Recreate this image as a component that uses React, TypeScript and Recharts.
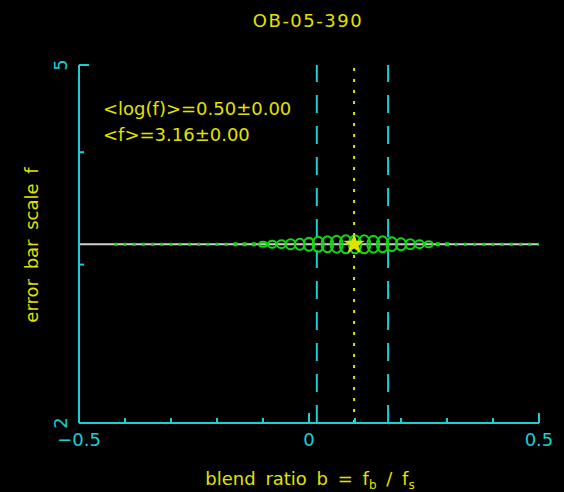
import {
  ComposedChart,
  XAxis,
  YAxis,
  Scatter,
  ReferenceLine,
  Symbols,
} from 'recharts';

const AXIS = '#1bcfd6';
const INK = '#e2e200';
const GREEN = '#12d812';
const GREY = '#cfcfcf';
const FONT = '"DejaVu Sans", sans-serif';

const title = 'OB-05-390';

// blend ratio grid and the ring size drawn at each step
const blendGrid = [
  -0.42, -0.4, -0.38, -0.36, -0.34, -0.32, -0.3, -0.28, -0.26, -0.24, -0.22, -0.2,
  -0.18, -0.16, -0.14, -0.12, -0.1, -0.08, -0.06, -0.04, -0.02, 0, 0.02, 0.04,
  0.06, 0.08, 0.1, 0.12, 0.14, 0.16, 0.18, 0.2, 0.22, 0.24, 0.26, 0.28, 0.3,
  0.32, 0.34, 0.36, 0.38, 0.4, 0.42, 0.44, 0.46, 0.48, 0.5,
];
const ringSize = [
  1.5, 1.5, 1.5, 1.5, 1.5, 1.5, 1.5, 1.5, 1.5, 1.5, 1.5, 1.5,
  1.5, 2, 2, 2, 2.5, 3.5, 4, 5, 5.5, 6.5, 7.5, 8,
  8.5, 9, 9, 9, 8.5, 8, 7, 6, 5, 4, 3, 2, 2,
  1.5, 1.5, 1.5, 1.5, 1.5, 1.5, 1.5, 1.5, 1.5, 1.5,
];

const meanF = 3.16;
const bestBlend = 0.098;
const blendLow = 0.017;
const blendHigh = 0.172;

const xTicks = [-0.5, -0.4, -0.3, -0.2, -0.1, 0, 0.1, 0.2, 0.3, 0.4, 0.5];
const xMajor = [-0.5, 0, 0.5];
const xMajorLabels = ['\u22120.5', '0', '0.5'];
const yTicks = [2, 3, 4, 5];
const yMajor = [2, 5];
const yMajorLabels = ['2', '5'];

const chain = blendGrid.map((b, i) => ({ b, f: meanF, r: ringSize[i] }));
const best = [{ b: bestBlend, f: meanF }];

function BottomTick({ x, y, payload }: any) {
  const i = xMajor.indexOf(payload.value);
  return (
    <g>
      <line x1={x} x2={x} y1={y} y2={y - (i >= 0 ? 10 : 5)} stroke={AXIS} strokeWidth={2} />
      {i >= 0 && (
        <text x={x} y={y + 23} textAnchor="middle" fill={AXIS} fontSize={18} fontFamily={FONT}>
          {xMajorLabels[i]}
        </text>
      )}
    </g>
  );
}

function TopTick({ x, y, payload }: any) {
  const major = xMajor.includes(payload.value);
  return <line x1={x} x2={x} y1={y} y2={y + (major ? 10 : 5)} stroke={AXIS} strokeWidth={2} />;
}

function LeftTick({ x, y, payload }: any) {
  const i = yMajor.indexOf(payload.value);
  return (
    <g>
      <line x1={x} x2={x + (i >= 0 ? 10 : 5)} y1={y} y2={y} stroke={AXIS} strokeWidth={2} />
      {i >= 0 && (
        <text
          x={x - 12}
          y={y}
          textAnchor="middle"
          transform={`rotate(-90, ${x - 12}, ${y})`}
          fill={AXIS}
          fontSize={18}
          fontFamily={FONT}
        >
          {yMajorLabels[i]}
        </text>
      )}
    </g>
  );
}

function RightTick({ x, y, payload }: any) {
  const major = yMajor.includes(payload.value);
  return <line x1={x} x2={x - (major ? 10 : 5)} y1={y} y2={y} stroke={AXIS} strokeWidth={2} />;
}

function Ring({ cx, cy, payload }: any) {
  const r = payload.r;
  if (r <= 2) {
    const s = r <= 1.6 ? 3 : 4;
    return <rect x={cx - s / 2} y={cy - s / 2} width={s} height={s} fill={GREEN} />;
  }
  return (
    <ellipse cx={cx} cy={cy} rx={3 + r * 0.35} ry={r} fill="none" stroke={GREEN} strokeWidth={2} />
  );
}

function Star({ cx, cy }: any) {
  return <Symbols cx={cx} cy={cy} type="star" size={140} fill={INK} />;
}

export default function App() {
  return (
    <div
      style={{
        position: 'fixed',
        left: 0,
        top: 0,
        width: 564,
        height: 492,
        background: '#000',
      }}
    >
      <ComposedChart
        width={564}
        height={492}
        margin={{ top: 65, right: 25, bottom: 39, left: 19 }}
      >
        <XAxis
          xAxisId={0}
          type="number"
          dataKey="b"
          domain={[-0.5, 0.5]}
          ticks={xTicks}
          interval={0}
          allowDataOverflow
          height={30}
          axisLine={{ stroke: AXIS, strokeWidth: 2 }}
          tickLine={false}
          tickSize={0}
          tickMargin={0}
          tick={BottomTick}
        />
        <XAxis
          xAxisId="top"
          orientation="top"
          type="number"
          domain={[-0.5, 0.5]}
          ticks={xTicks}
          interval={0}
          allowDataOverflow
          height={0}
          axisLine={{ stroke: AXIS, strokeWidth: 2 }}
          tickLine={false}
          tickSize={0}
          tickMargin={0}
          tick={TopTick}
        />
        <YAxis
          yAxisId={0}
          type="number"
          dataKey="f"
          scale="log"
          domain={[2, 5]}
          ticks={yTicks}
          interval={0}
          allowDataOverflow
          width={60}
          axisLine={{ stroke: AXIS, strokeWidth: 2 }}
          tickLine={false}
          tickSize={0}
          tickMargin={0}
          tick={LeftTick}
        />
        <YAxis
          yAxisId="right"
          orientation="right"
          type="number"
          scale="log"
          domain={[2, 5]}
          ticks={yTicks}
          interval={0}
          allowDataOverflow
          width={0}
          axisLine={{ stroke: AXIS, strokeWidth: 2 }}
          tickLine={false}
          tickSize={0}
          tickMargin={0}
          tick={RightTick}
        />
        <ReferenceLine x={blendLow} stroke={AXIS} strokeWidth={2} strokeDasharray="18 13" />
        <ReferenceLine x={blendHigh} stroke={AXIS} strokeWidth={2} strokeDasharray="18 13" />
        <ReferenceLine x={bestBlend} stroke={INK} strokeWidth={2} strokeDasharray="3 8" />
        <Scatter data={chain} shape={Ring} isAnimationActive={false} />
        <ReferenceLine y={meanF} stroke={GREY} strokeWidth={2} />
        <Scatter data={best} shape={Star} isAnimationActive={false} />
      </ComposedChart>
      <svg
        width={564}
        height={492}
        style={{ position: 'absolute', left: 0, top: 0, pointerEvents: 'none' }}
        fontFamily={FONT}
        fill={INK}
      >
        <text x={308} y={27} textAnchor="middle" fontSize={18} letterSpacing={1.5}>
          {title}
        </text>
        <text x={103} y={115} fontSize={18}>
          {'<log(f)>=0.50\u00b10.00'}
        </text>
        <text x={103} y={141} fontSize={18}>
          {'<f>=3.16\u00b10.00'}
        </text>
        <text x={310} y={485} textAnchor="middle" fontSize={18} wordSpacing={4}>
          blend ratio b = f
          <tspan fontSize={12} dy={4}>b</tspan>
          <tspan dy={-4}> / f</tspan>
          <tspan fontSize={12} dy={4}>s</tspan>
        </text>
        <text
          x={38}
          y={245}
          textAnchor="middle"
          fontSize={18}
          wordSpacing={4}
          transform="rotate(-90, 38, 245)"
        >
          error bar scale f
        </text>
      </svg>
    </div>
  );
}
